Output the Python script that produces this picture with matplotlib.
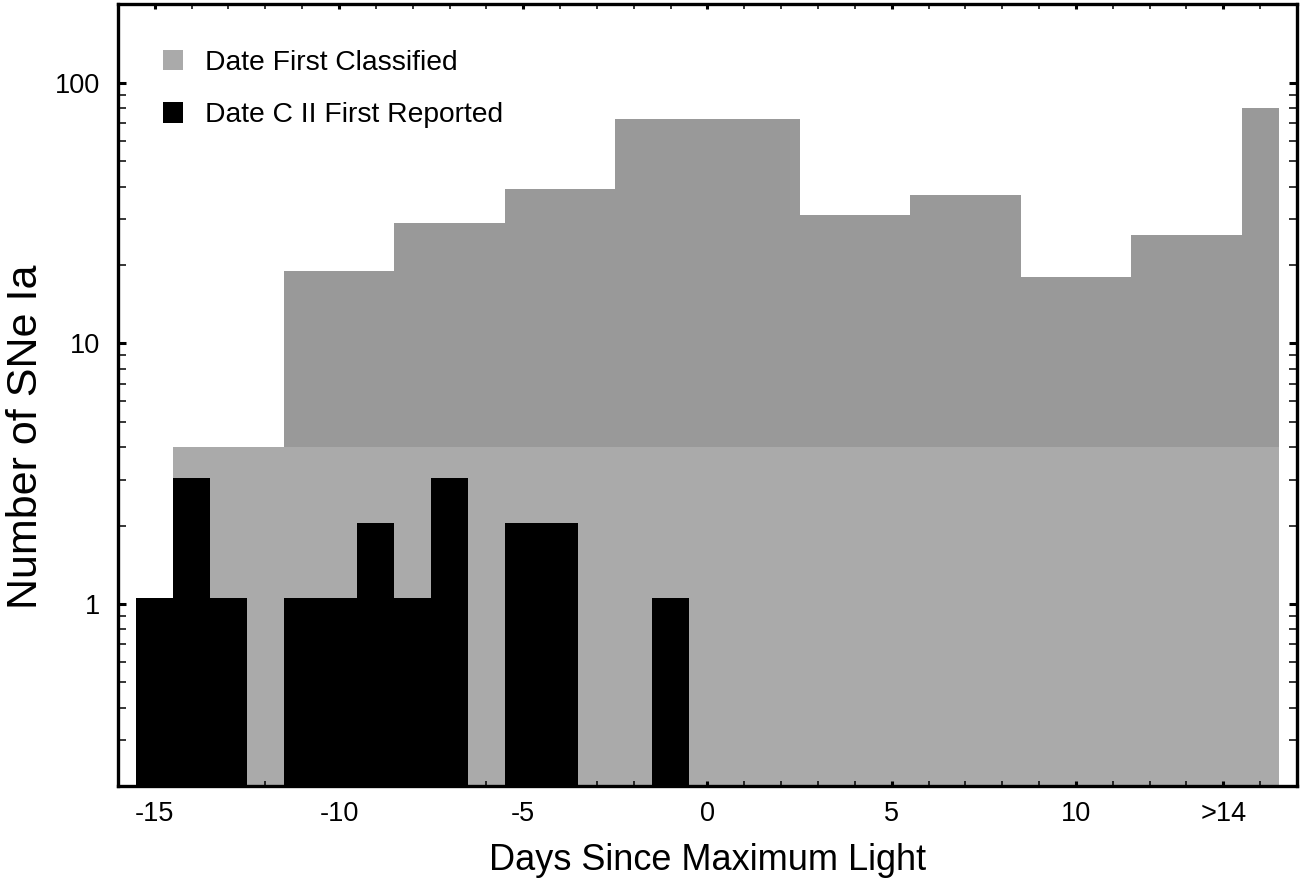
import matplotlib
matplotlib.use("Agg")
import matplotlib.pyplot as plt
from matplotlib.ticker import FixedLocator, MultipleLocator, LogLocator, NullFormatter
from matplotlib.patches import Patch

plt.rcParams['font.family'] = ['Liberation Sans', 'DejaVu Sans']

# --- data ---
classified_edges = [-14.5, -11.5, -8.5, -5.5, -2.5, 2.5, 5.5, 8.5, 11.5, 14.5, 15.5]
classified_counts = [4, 19, 29, 39, 73, 31, 37, 18, 26, 80]
classified_floor = 4
cii_days = [-15, -14, -13, -11, -10, -9, -8, -7, -5, -4, -1]
cii_counts = [1, 3, 1, 1, 1, 2, 1, 3, 2, 2, 1]
xtick_values = [-15, -10, -5, 0, 5, 10, 14]
xtick_labels = ['-15', '-10', '-5', '0', '5', '10', '>14']
ytick_values = [1, 10, 100]
ytick_labels = ['1', '10', '100']

dark_gray = '#999999'
light_gray = '#aaaaaa'

fig = plt.figure(figsize=(13.09, 8.8), dpi=100)
ax = fig.add_axes([0.0901, 0.1068, 0.9908 - 0.0901, 0.9949 - 0.1068])
ax.set_yscale('log')

ax.stairs(classified_counts, classified_edges, fill=True, baseline=0.05,
          color=dark_gray, linewidth=0)
ax.stairs([classified_floor], [classified_edges[0], classified_edges[-1]],
          fill=True, baseline=0.05, color=light_gray, linewidth=0)
ax.bar(cii_days, cii_counts, width=1.0, bottom=0.05, color='black',
       linewidth=0)

ax.set_xlim(-16, 16)
ax.set_ylim(0.2, 200)

ax.xaxis.set_major_locator(FixedLocator(xtick_values))
ax.set_xticklabels(xtick_labels)
ax.xaxis.set_minor_locator(MultipleLocator(1))
ax.yaxis.set_major_locator(FixedLocator(ytick_values))
ax.set_yticklabels(ytick_labels)
ax.yaxis.set_minor_locator(LogLocator(base=10, subs=range(2, 10)))
ax.yaxis.set_minor_formatter(NullFormatter())

ax.tick_params(axis='both', which='both', direction='in', top=True, right=True,
               labelsize=19.5, colors='black')
ax.tick_params(axis='x', which='major', length=3.5, width=2.2, pad=11)
ax.tick_params(axis='x', which='minor', length=3.5, width=1.1)
ax.tick_params(axis='y', which='major', length=6, width=2.2, pad=13)
ax.tick_params(axis='y', which='minor', length=6, width=1.1)

for sp in ax.spines.values():
    sp.set_linewidth(2.4)
    sp.set_zorder(5)

ax.set_xlabel('Days Since Maximum Light', fontsize=26, labelpad=11)
ax.set_ylabel('Number of SNe Ia', fontsize=31)
ax.yaxis.set_label_coords(-0.061, 0.447)

handles = [Patch(facecolor=light_gray, edgecolor='none'),
           Patch(facecolor='black', edgecolor='none')]
ax.legend(handles, ['Date First Classified', 'Date C II First Reported'],
          loc='upper left', bbox_to_anchor=(0.0382, 0.942), frameon=False,
          fontsize=20.3, handlelength=0.72, handleheight=0.72,
          handletextpad=0.77, labelspacing=0.94, borderaxespad=0, borderpad=0)

fig.savefig('out.png', dpi=100)
